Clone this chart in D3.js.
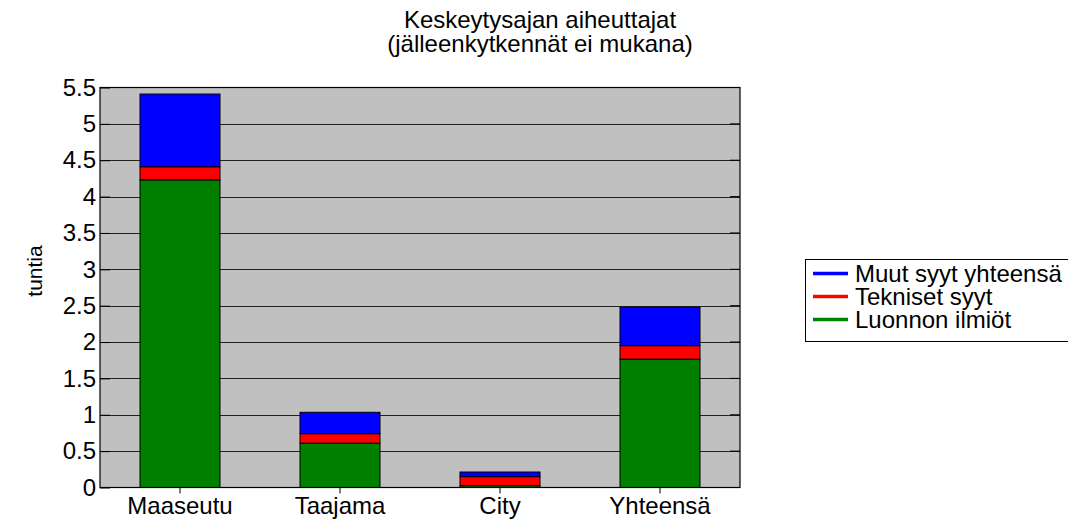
<!DOCTYPE html>
<html><head><meta charset="utf-8">
<script src="https://cdn.jsdelivr.net/npm/d3@7"></script>
<style>body{margin:0;background:#fff}svg{display:block;font-family:"Liberation Sans",Arial,sans-serif}</style>
</head><body><svg id="c" width="1068" height="525"></svg>
<script>
const categories = ["Maaseutu","Taajama","City","Yhteensä"];
const luonnon = [4.23, 0.61, 0.025, 1.765];
const tekniset = [0.18, 0.13, 0.124, 0.185];
const muut = [1.0, 0.294, 0.064, 0.53];
const seriesNames = ["Luonnon ilmiöt","Tekniset syyt","Muut syyt yhteensä"];
const seriesColors = ["#008000","#ff0000","#0000ff"];
const yTicks = [0,0.5,1,1.5,2,2.5,3,3.5,4,4.5,5,5.5];
const yTickLabels = ["0","0.5","1","1.5","2","2.5","3","3.5","4","4.5","5","5.5"];

const FS = 24;
const svg = d3.select("#c");
const L=100, R=740, T=87.5, B=487.5;
const x = d3.scaleBand().domain(categories).range([L,R]).paddingInner(0.5).paddingOuter(0.25);
const y = d3.scaleLinear().domain([0,5.5]).range([B,T]);

svg.append("rect").attr("x",L).attr("y",T).attr("width",R-L).attr("height",B-T).attr("fill","#c0c0c0");

// gridlines
svg.append("g").selectAll("line").data(yTicks.slice(1,-1)).join("line")
  .attr("x1",L).attr("x2",R).attr("y1",d=>Math.round(y(d))+0.5).attr("y2",d=>Math.round(y(d))+0.5)
  .attr("stroke","#222").attr("stroke-width",1);

// stacked bars
const rows = categories.map((c,i)=>({cat:c, s0:luonnon[i], s1:tekniset[i], s2:muut[i]}));
const stack = d3.stack().keys(["s0","s1","s2"])(rows);
stack.forEach((layer,k)=>{
  svg.append("g").selectAll("rect").data(layer).join("rect")
    .attr("x",d=>x(d.data.cat)).attr("width",x.bandwidth())
    .attr("y",d=>y(d[1])).attr("height",d=>y(d[0])-y(d[1]))
    .attr("fill",seriesColors[k]).attr("stroke","#000").attr("stroke-width",1);
});

// frame
svg.append("rect").attr("x",L).attr("y",T).attr("width",R-L).attr("height",B-T)
  .attr("fill","none").attr("stroke","#000").attr("stroke-width",1.2);

// y axis
const ya = svg.append("g").attr("transform",`translate(${L},0)`)
  .call(d3.axisLeft(y).tickValues(yTicks).tickFormat((d,i)=>yTickLabels[i]).tickSize(-10).tickPadding(4));
ya.attr("font-size",FS).attr("font-family","Liberation Sans, Arial, sans-serif");
ya.select(".domain").remove();
ya.selectAll("text").attr("fill","#000");
ya.selectAll("line").attr("stroke","#000");
// right ticks
svg.append("g").selectAll("line").data(yTicks).join("line")
  .attr("x1",R-10).attr("x2",R).attr("y1",d=>y(d)).attr("y2",d=>y(d)).attr("stroke","#000");

// x axis
const xa = svg.append("g").attr("transform",`translate(0,${B})`)
  .call(d3.axisBottom(x).tickSize(6).tickPadding(3));
xa.attr("font-size",FS).attr("font-family","Liberation Sans, Arial, sans-serif");
xa.select(".domain").remove();
xa.selectAll("text").attr("fill","#000");
xa.selectAll("line").attr("stroke","#000");

// title
const title = svg.append("text").attr("text-anchor","middle").attr("font-size",FS).attr("fill","#000");
title.append("tspan").attr("x",540).attr("y",28).text("Keskeytysajan aiheuttajat");
title.append("tspan").attr("x",540).attr("y",52).text("(jälleenkytkennät ei mukana)");

// y label
svg.append("text").attr("transform","translate(42,271) rotate(-90)").attr("text-anchor","middle")
  .attr("font-size",21).attr("fill","#000").text("tuntia");

// legend
svg.append("rect").attr("x",805.5).attr("y",259.5).attr("width",280).attr("height",82)
  .attr("fill","#fff").attr("stroke","#000").attr("stroke-width",1);
const legOrder = [2,1,0];
legOrder.forEach((k,i)=>{
  const ly = 273.5 + i*23;
  svg.append("line").attr("x1",813).attr("x2",848).attr("y1",ly).attr("y2",ly)
    .attr("stroke",seriesColors[k]).attr("stroke-width",3.5);
  svg.append("text").attr("x",855).attr("y",ly+8.5).attr("font-size",FS).attr("fill","#000").text(seriesNames[k]);
});
</script></body></html>
